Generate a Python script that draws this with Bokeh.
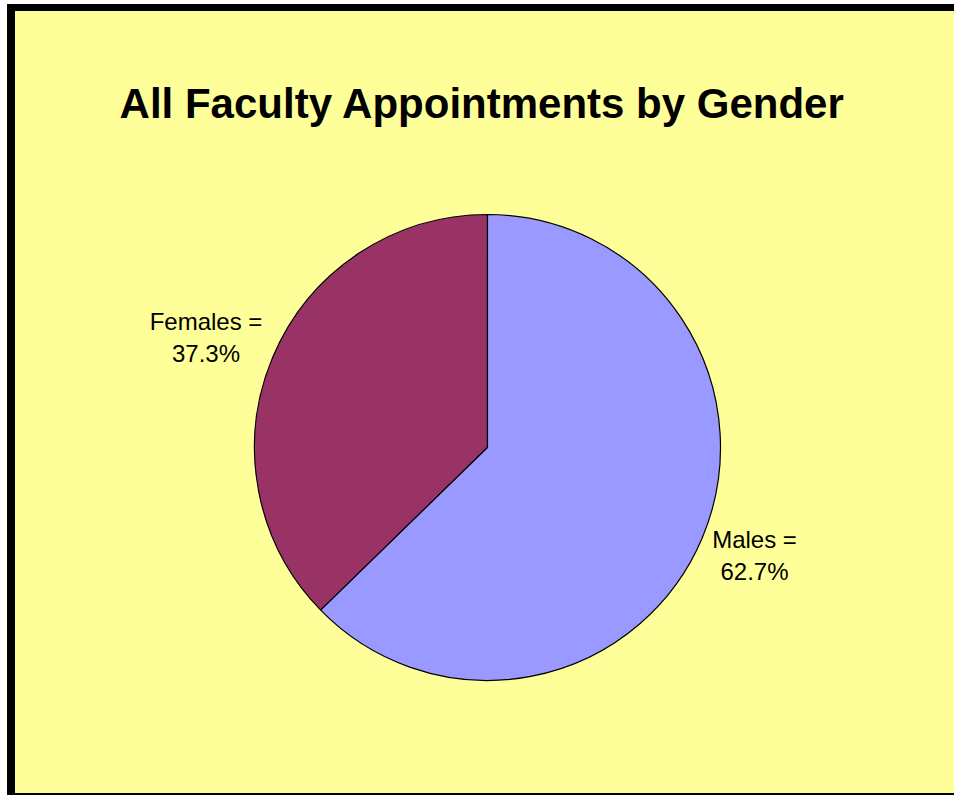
import math
from bokeh.plotting import figure
from bokeh.models import Range1d, ColumnDataSource
from bokeh.core.properties import value
from bokeh.embed import file_html
from bokeh.resources import INLINE

# ---- data ----
categories = ["Females", "Males"]
percents = [37.3, 62.7]
colors = ["#993366", "#9999FF"]
title_text = "All Faculty Appointments by Gender"

# ---- layout (pixel coordinates, y measured from top) ----
W, H = 954, 795


def X(px):
    return px


def Y(py):
    return H - py


cx, cy, R = 487, 447, 233
# label anchor (centre x, first baseline) relative to pie centre, in pixels
label_offsets = [(-281.5, -117.7), (267.0, 100.3)]
line_gap = 32
label_size = 24
title_size = 42
cap_shift = 0.36  # renderer places the glyph's visual centre at y

p = figure(width=W, height=H, output_backend="svg", toolbar_location=None,
           x_range=Range1d(0, W), y_range=Range1d(0, H),
           min_border=0, background_fill_color="white",
           border_fill_color="white", outline_line_color=None)
p.axis.visible = False
p.grid.visible = False

# chart area and frame borders
p.quad(left=[X(14)], right=[X(954)], bottom=[Y(793)], top=[Y(10)], color="#FFFF99")
p.quad(left=[X(7)], right=[X(14)], bottom=[Y(795)], top=[Y(4)], color="black")
p.quad(left=[X(7)], right=[X(954)], bottom=[Y(10)], top=[Y(4)], color="black")
p.quad(left=[X(7)], right=[X(954)], bottom=[Y(795)], top=[Y(793)], color="black")

# wedges
total = sum(percents)
starts, ends = [], []
a = math.pi / 2
for v in percents:
    span = 2 * math.pi * v / total
    starts.append(a)
    ends.append(a + span)
    a += span

src = ColumnDataSource(dict(start=starts, end=ends, color=colors,
                            x=[X(cx)] * len(percents), y=[Y(cy)] * len(percents)))
p.wedge(x="x", y="y", radius=R, start_angle="start", end_angle="end",
        fill_color="color", line_color="black", line_width=1.2, source=src)

# labels
lx, ly1, ly2, t1, t2 = [], [], [], [], []
for cat, v, (dx, dy) in zip(categories, percents, label_offsets):
    base1 = cy + dy
    lx.append(X(cx + dx))
    ly1.append(Y(base1 - cap_shift * label_size))
    ly2.append(Y(base1 + line_gap - cap_shift * label_size))
    t1.append(f"{cat} =")
    t2.append(f"{v:.1f}%")

p.text(x=lx, y=ly1, text=t1, text_align="center",
       text_baseline="alphabetic", text_font=value("Liberation Sans"),
       text_font_size=f"{label_size}px", text_color="black")
p.text(x=lx, y=ly2, text=t2, text_align="center",
       text_baseline="alphabetic", text_font=value("Liberation Sans"),
       text_font_size=f"{label_size}px", text_color="black")

# title
p.text(x=[X(482)], y=[Y(118 - cap_shift * title_size)], text=[title_text],
       text_align="center", text_baseline="alphabetic",
       text_font=value("Liberation Sans"), text_font_style="bold",
       text_font_size=f"{title_size}px", text_color="black")

open("out.html", "w").write(file_html(p, INLINE))
